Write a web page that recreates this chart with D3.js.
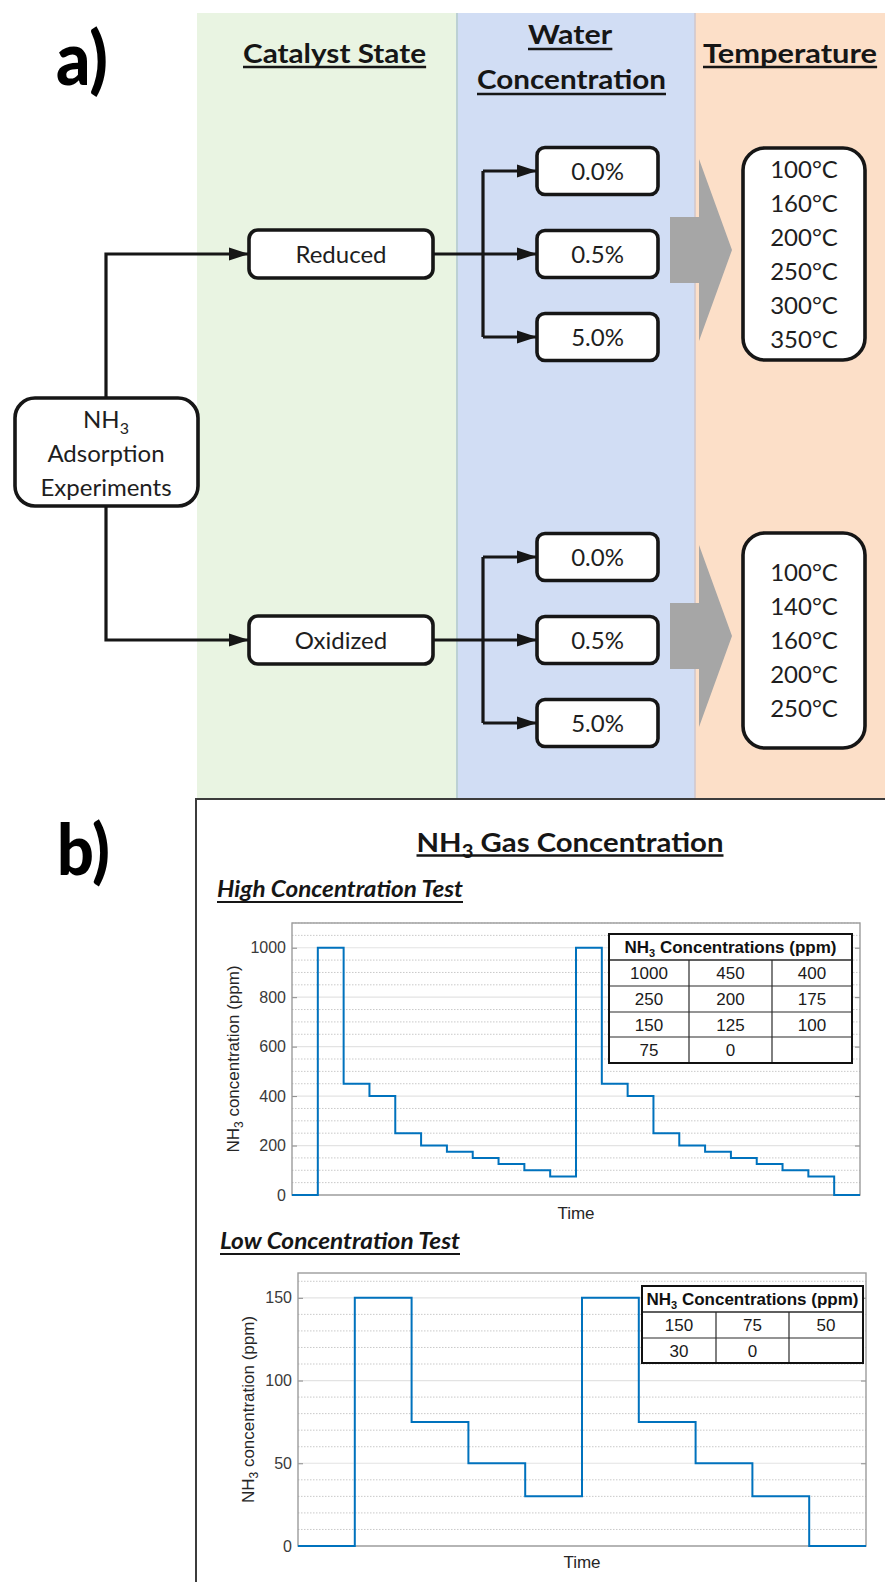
<!DOCTYPE html>
<html><head><meta charset="utf-8">
<script src="https://cdn.jsdelivr.net/npm/d3@7"></script>
<style>body{margin:0;background:#fff} svg{display:block}</style>
</head><body>
<svg id="fig" width="885" height="1582"></svg>
<script>
// ---------------- DATA ----------------
const columnHeaders = [["Catalyst State"], ["Water", "Concentration"], ["Temperature"]];
const rootLabel = ["Adsorption", "Experiments"];
const catalystStates = ["Reduced", "Oxidized"];
const waterConcentrations = ["0.0%", "0.5%", "5.0%"];
const reducedTemperatures = ["100°C", "160°C", "200°C", "250°C", "300°C", "350°C"];
const oxidizedTemperatures = ["100°C", "140°C", "160°C", "200°C", "250°C"];

const highConcSteps = [0, 1000, 450, 400, 250, 200, 175, 150, 125, 100, 75, 1000, 450, 400, 250, 200, 175, 150, 125, 100, 75, 0];
const lowConcSteps = [0, 150, 75, 50, 30, 150, 75, 50, 30, 0];
const highTicks = [0, 200, 400, 600, 800, 1000];
const lowTicks = [0, 50, 100, 150];
const highTable = [["1000", "450", "400"], ["250", "200", "175"], ["150", "125", "100"], ["75", "0", ""]];
const lowTable = [["150", "75", "50"], ["30", "0", ""]];

// ---------------- STYLE ----------------
const FLOW_FONT = "Lato, 'Open Sans', sans-serif";
const PLOT_FONT = "'Liberation Sans', Arial, sans-serif";
const INK = "#161616";

const svg = d3.select("#fig");
const defs = svg.append("defs");
defs.append("marker").attr("id", "arr").attr("markerUnits", "userSpaceOnUse")
  .attr("markerWidth", 20).attr("markerHeight", 14).attr("refX", 19).attr("refY", 7)
  .attr("orient", "auto")
  .append("path").attr("d", "M0,0.5L20,7L0,13.5Z").attr("fill", INK);

// ---------------- PANEL A ----------------
const bandTop = 13, bandBottom = 799;
const bandX = [197, 457, 695, 885];
const bandFill = ["#E9F4E2", "#D1DDF4", "#FCDFC8"];
bandFill.forEach((f, i) => {
  svg.append("rect").attr("x", bandX[i]).attr("y", bandTop).attr("width", bandX[i + 1] - bandX[i])
    .attr("height", bandBottom - bandTop).attr("fill", f);
});
svg.append("line").attr("x1", 457).attr("x2", 457).attr("y1", bandTop).attr("y2", bandBottom).attr("stroke", "#bcd0d4").attr("stroke-width", 2);
svg.append("line").attr("x1", 695).attr("x2", 695).attr("y1", bandTop).attr("y2", bandBottom).attr("stroke", "#cfc6cc").attr("stroke-width", 1.5);

function underline(sel, y, thick) {
  const bb = sel.node().getBBox();
  svg.append("line").attr("x1", bb.x).attr("x2", bb.x + bb.width).attr("y1", y).attr("y2", y)
    .attr("stroke", INK).attr("stroke-width", thick || 2.2);
}

// panel letters
svg.append("text").attr("x", 56).attr("y", 85).attr("font-family", FLOW_FONT).attr("font-weight", 900)
  .attr("font-size", 74).attr("textLength", 52).attr("lengthAdjust", "spacingAndGlyphs").attr("fill", "#000").text("a)");
svg.append("text").attr("x", 57).attr("y", 875).attr("font-family", FLOW_FONT).attr("font-weight", 900)
  .attr("font-size", 70).attr("textLength", 53).attr("lengthAdjust", "spacingAndGlyphs").attr("fill", "#000").text("b)");

// column headers
const headerLayout = [
  [{cx: 334.5, y: 63, w: 183, u: 67}],
  [{cx: 570, y: 44, w: 84, u: 49}, {cx: 571.5, y: 89, w: 189, u: 94}],
  [{cx: 790, y: 63, w: 174, u: 67}]
];
columnHeaders.forEach((lines, i) => {
  lines.forEach((t, j) => {
    const L = headerLayout[i][j];
    const tx = svg.append("text").attr("x", L.cx).attr("y", L.y).attr("text-anchor", "middle")
      .attr("font-family", FLOW_FONT).attr("font-weight", 700).attr("font-size", 26)
      .attr("textLength", L.w).attr("lengthAdjust", "spacingAndGlyphs").attr("fill", INK).text(t);
    underline(tx, L.u, 2.3);
  });
});

function box(x, y, w, h, r) {
  svg.append("rect").attr("x", x).attr("y", y).attr("width", w).attr("height", h).attr("rx", r).attr("ry", r)
    .attr("fill", "#fff").attr("stroke", INK).attr("stroke-width", 3.6);
}
function label(cx, cy, t) {
  svg.append("text").attr("x", cx).attr("y", cy + 8.5).attr("text-anchor", "middle")
    .attr("font-family", FLOW_FONT).attr("font-size", 24).attr("fill", "#1e1e1e").text(t);
}
function line(d, arrow) {
  const p = svg.append("path").attr("d", d).attr("fill", "none").attr("stroke", INK).attr("stroke-width", 3.2);
  if (arrow) p.attr("marker-end", "url(#arr)");
}

// connectors from root
const catCY = [254, 640];
line(`M106,398V${catCY[0]}H248`, true);
line(`M106,506V${catCY[1]}H248`, true);

// root box
box(15, 398, 183, 108, 20);
const nh = svg.append("text").attr("x", 106).attr("y", 428).attr("text-anchor", "middle")
  .attr("font-family", FLOW_FONT).attr("font-size", 24).attr("fill", "#1e1e1e");
nh.append("tspan").text("NH");
nh.append("tspan").attr("dy", 6).attr("font-size", 16).text("3");
rootLabel.forEach((t, i) => label(106, 453 + i * 34, t));

// catalyst boxes, water branches, arrows, temperature boxes
const waterCY = [[171, 254, 337], [557, 640, 723]];
const tempSets = [reducedTemperatures, oxidizedTemperatures];
const tempBox = [{y: 148, h: 212}, {y: 533, h: 215}];
const grayCY = [250, 636];
catalystStates.forEach((s, i) => {
  const cy = catCY[i];
  line(`M433,${cy}H536`, true);
  line(`M483,${waterCY[i][0]}V${waterCY[i][2]}`, false);
  line(`M483,${waterCY[i][0]}H536`, true);
  line(`M483,${waterCY[i][2]}H536`, true);
  box(249, cy - 24, 184, 48, 9);
  label(341, cy, s);
  waterConcentrations.forEach((w, j) => {
    const wy = waterCY[i][j];
    box(537, wy - 23.5, 121, 47, 8);
    label(597.5, wy, w);
  });
  const c = grayCY[i];
  svg.append("polygon").attr("points",
    [[670, c - 33], [699, c - 33], [699, c - 91], [732, c], [699, c + 91], [699, c + 33], [670, c + 33]].map(p => p.join(",")).join(" "))
    .attr("fill", "#A6A6A6");
  const tb = tempBox[i];
  box(743, tb.y, 122, tb.h, 22);
  const temps = tempSets[i];
  const mid = tb.y + tb.h / 2;
  temps.forEach((t, k) => label(804, mid + (k - (temps.length - 1) / 2) * 34, t));
});

// ---------------- PANEL B ----------------
svg.append("rect").attr("x", 196).attr("y", 799).attr("width", 720).attr("height", 820)
  .attr("fill", "#fff").attr("stroke", "#3c3c3c").attr("stroke-width", 2);

const title = svg.append("text").attr("x", 570).attr("y", 852).attr("text-anchor", "middle")
  .attr("font-family", FLOW_FONT).attr("font-weight", 700).attr("font-size", 26).attr("fill", INK)
  .attr("textLength", 307).attr("lengthAdjust", "spacingAndGlyphs");
title.append("tspan").text("NH");
title.append("tspan").attr("dy", 6).attr("font-size", 18).text("3");
title.append("tspan").attr("dy", -6).text(" Gas Concentration");
underline(title, 855.5, 2.3);

function subTitle(x, y, w, t, u) {
  const s = svg.append("text").attr("x", x).attr("y", y).attr("font-family", FLOW_FONT)
    .attr("font-weight", 700).attr("font-style", "italic").attr("font-size", 22).attr("fill", INK)
    .attr("textLength", w).attr("lengthAdjust", "spacingAndGlyphs").text(t);
  underline(s, u, 2);
}
subTitle(217, 897, 246, "High Concentration Test", 902);
subTitle(220, 1249, 240, "Low Concentration Test", 1254);

function drawPlot(cfg) {
  const {steps, yMax, ticks, minorStep, x0, x1, yTop, yBottom, ylabX, timeY} = cfg;
  const x = d3.scaleLinear().domain([0, steps.length]).range([x0, x1]);
  const y = d3.scaleLinear().domain([0, yMax]).range([yBottom, yTop]);
  const g = svg.append("g");
  const minor = d3.range(minorStep, yMax + 1e-6, minorStep).filter(v => !ticks.includes(v));
  g.selectAll(".mg").data(minor).join("line")
    .attr("x1", x0).attr("x2", x1).attr("y1", d => y(d)).attr("y2", d => y(d))
    .attr("stroke", "#c9c9c9").attr("stroke-width", 1).attr("stroke-dasharray", "1.5,1.5");
  g.selectAll(".Mg").data(ticks).join("line")
    .attr("x1", x0).attr("x2", x1).attr("y1", d => y(d)).attr("y2", d => y(d))
    .attr("stroke", "#e3e3e3").attr("stroke-width", 1.2);
  const axL = d3.axisLeft(y).tickValues(ticks).tickFormat(d3.format("d")).tickSize(-5).tickPadding(6).tickSizeOuter(0);
  g.append("g").attr("transform", `translate(${x0},0)`).call(axL).call(a => {
    a.select(".domain").remove();
    a.selectAll("line").attr("stroke", "#8a8a8a");
    a.selectAll("text").attr("font-family", PLOT_FONT).attr("font-size", 16).attr("fill", "#3a3a3a");
  });
  const axR = d3.axisRight(y).tickValues(ticks).tickSize(-5).tickFormat("").tickSizeOuter(0);
  g.append("g").attr("transform", `translate(${x1},0)`).call(axR).call(a => {
    a.select(".domain").remove();
    a.selectAll("line").attr("stroke", "#8a8a8a");
  });
  g.append("rect").attr("x", x0).attr("y", yTop).attr("width", x1 - x0).attr("height", yBottom - yTop)
    .attr("fill", "none").attr("stroke", "#9c9c9c").attr("stroke-width", 1.4);
  const pts = steps.map((v, i) => [i, v]).concat([[steps.length, steps[steps.length - 1]]]);
  g.append("path").attr("d", d3.line().x(d => x(d[0])).y(d => y(d[1])).curve(d3.curveStepAfter)(pts))
    .attr("fill", "none").attr("stroke", "#0072BD").attr("stroke-width", 2);
  const yl = g.append("text").attr("transform", `translate(${ylabX},${(yTop + yBottom) / 2}) rotate(-90)`)
    .attr("text-anchor", "middle").attr("font-family", PLOT_FONT).attr("font-size", 17).attr("fill", "#262626");
  yl.append("tspan").text("NH");
  yl.append("tspan").attr("dy", 4).attr("font-size", 12).text("3");
  yl.append("tspan").attr("dy", -4).text(" concentration (ppm)");
  g.append("text").attr("x", (x0 + x1) / 2).attr("y", timeY).attr("text-anchor", "middle")
    .attr("font-family", PLOT_FONT).attr("font-size", 17).attr("fill", "#262626").text("Time");
}

function drawTable(rows, colX, rowY) {
  const g = svg.append("g");
  const L = colX[0], R = colX[colX.length - 1], T = rowY[0], B = rowY[rowY.length - 1];
  g.append("rect").attr("x", L).attr("y", T).attr("width", R - L).attr("height", B - T).attr("fill", "#fff");
  rowY.slice(1, -1).forEach(yy => g.append("line").attr("x1", L).attr("x2", R).attr("y1", yy).attr("y2", yy)
    .attr("stroke", "#2a2a2a").attr("stroke-width", yy === rowY[1] ? 1.6 : 1.2));
  colX.slice(1, -1).forEach(xx => g.append("line").attr("x1", xx).attr("x2", xx).attr("y1", rowY[1]).attr("y2", B)
    .attr("stroke", "#2a2a2a").attr("stroke-width", 1.2));
  g.append("rect").attr("x", L).attr("y", T).attr("width", R - L).attr("height", B - T)
    .attr("fill", "none").attr("stroke", "#111").attr("stroke-width", 2);
  const h = g.append("text").attr("x", (L + R) / 2).attr("y", (rowY[0] + rowY[1]) / 2 + 6)
    .attr("text-anchor", "middle").attr("font-family", PLOT_FONT).attr("font-weight", 700)
    .attr("font-size", 17).attr("fill", "#111");
  h.append("tspan").text("NH");
  h.append("tspan").attr("dy", 4).attr("font-size", 11).text("3");
  h.append("tspan").attr("dy", -4).text(" Concentrations (ppm)");
  rows.forEach((r, i) => r.forEach((v, j) => {
    if (!v) return;
    g.append("text").attr("x", (colX[j] + colX[j + 1]) / 2).attr("y", (rowY[i + 1] + rowY[i + 2]) / 2 + 6)
      .attr("text-anchor", "middle").attr("font-family", PLOT_FONT).attr("font-size", 17)
      .attr("fill", "#1a1a1a").text(v);
  }));
}

drawPlot({steps: highConcSteps, yMax: 1100, ticks: highTicks, minorStep: 50,
  x0: 292, x1: 860, yTop: 923, yBottom: 1195, ylabX: 239, timeY: 1219});
drawTable(highTable, [609, 689, 772, 852], [934, 960, 986, 1012, 1037, 1063]);

drawPlot({steps: lowConcSteps, yMax: 165, ticks: lowTicks, minorStep: 10,
  x0: 298, x1: 866, yTop: 1273, yBottom: 1546, ylabX: 254, timeY: 1568});
drawTable(lowTable, [642, 716, 789, 863], [1286, 1312, 1338, 1363]);
</script>
</body></html>
